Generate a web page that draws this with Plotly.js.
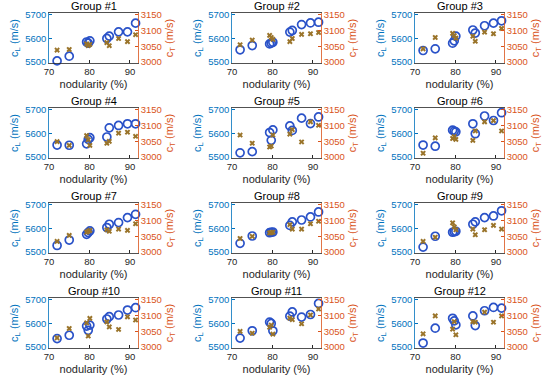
<!DOCTYPE html>
<html><head><meta charset="utf-8">
<script src="https://cdn.plot.ly/plotly-3.0.1.min.js"></script>
<style>html,body{margin:0;padding:0;background:#fff}#chart{width:550px;height:383px}</style>
</head><body><div id="chart"></div>
<script>
const nodularity = [72, 75, 79.3, 79.7, 80.1, 84.3, 84.9, 87.2, 89.4, 91.4];
const groupNames = ["Group #1","Group #2","Group #3","Group #4","Group #5","Group #6","Group #7","Group #8","Group #9","Group #10","Group #11","Group #12"];
const cL1 = [5505, 5525, 5585, 5580, 5590, 5600, 5610, 5628, 5628, 5665];
const cT1 = [3038, 3040, 3058, 3052, 3056, 3062, 3052, 3075, 3065, 3087];
const cL2 = [5552, 5570, 5577, 5580, 5584, 5627, 5634, 5659, 5666, 5669];
const cT2 = [3055, 3070, 3085, 3078, 3072, 3065, 3075, 3088, 3090, 3094];
const cL3 = [5549, 5556, 5580, 5590, 5610, 5636, 5623, 5654, 5665, 5675];
const cT3 = [3042, 3078, 3091, 3084, 3076, 3082, 3066, 3095, 3090, 3107];
const cL4 = [5551, 5550, 5556, 5575, 5582, 5585, 5624, 5634, 5641, 5641];
const cT4 = [3049, 3037, 3068, 3055, 3037, 3044, 3050, 3076, 3079, 3066];
const cL5 = [5518, 5523, 5604, 5571, 5615, 5632, 5613, 5665, 5642, 5670];
const cT5 = [3070, 3044, 3032, 3035, 3070, 3073, 3087, 3048, 3112, 3101];
const cL6 = [5551, 5546, 5614, 5610, 5607, 5641, 5599, 5674, 5655, 5688];
const cT6 = [3012, 3061, 3059, 3065, 3056, 3053, 3083, 3112, 3116, 3083];
const cL7 = [5528, 5551, 5575, 5583, 5590, 5604, 5618, 5625, 5646, 5660];
const cT7 = [3034, 3053, 3063, 3066, 3069, 3071, 3066, 3073, 3069, 3090];
const cL8 = [5537, 5568, 5582, 5584, 5585, 5613, 5628, 5636, 5649, 5670];
const cT8 = [3043, 3050, 3061, 3062, 3063, 3087, 3073, 3073, 3090, 3098];
const cL9 = [5521, 5567, 5584, 5586, 5588, 5618, 5628, 5646, 5653, 5675];
const cT9 = [3034, 3047, 3093, 3080, 3071, 3073, 3055, 3071, 3085, 3073];
const cL10 = [5536, 5550, 5589, 5571, 5593, 5619, 5629, 5636, 5657, 5667];
const cT10 = [3029, 3059, 3077, 3035, 3091, 3080, 3064, 3056, 3096, 3086];
const cL11 = [5538, 5569, 5606, 5600, 5569, 5631, 5649, 5627, 5638, 5685];
const cT11 = [3050, 3044, 3063, 3070, 3041, 3092, 3087, 3074, 3102, 3121];
const cL12 = [5517, 5580, 5622, 5611, 5594, 5632, 5591, 5654, 5668, 5665];
const cT12 = [3042, 3099, 3057, 3081, 3039, 3081, 3079, 3111, 3079, 3099];
const cLTicks = [5500, 5600, 5700];
const cTTicks = [3000, 3050, 3100, 3150];
const xTicks = [70, 80, 90];

const cLAll = [cL1,cL2,cL3,cL4,cL5,cL6,cL7,cL8,cL9,cL10,cL11,cL12];
const cTAll = [cT1,cT2,cT3,cT4,cT5,cT6,cT7,cT8,cT9,cT10,cT11,cT12];

const W = 550, H = 383;
const colPx = [[49,138],[232,321],[415,504]];
const rowPx = [[13,63],[108,158],[203,253],[298,348]];
const BLUE = '#0072BD', ORANGE = '#D95319';
const CIRC = '#2a52c8', XCOL = '#9a742a';
const FONT = 'Liberation Sans, Arial, sans-serif';

const data = [];
const layout = {
  width: W, height: H, margin: {l:0,r:0,t:0,b:0},
  paper_bgcolor: '#fff', plot_bgcolor: '#fff', showlegend: false,
  font: {family: FONT, size: 10, color: '#262626'},
  annotations: []
};

for (let i = 0; i < 12; i++) {
  const r = Math.floor(i/3), c = i % 3;
  const xn = i+1, y1n = 2*i+1, y2n = 2*i+2;
  const xk = xn === 1 ? 'x' : 'x'+xn;
  const y1k = y1n === 1 ? 'y' : 'y'+y1n;
  const y2k = 'y'+y2n;
  const xd = [colPx[c][0]/W, colPx[c][1]/W];
  const yd = [1 - rowPx[r][1]/H, 1 - rowPx[r][0]/H];
  data.push({x: nodularity, y: cLAll[i], xaxis: xk, yaxis: y1k, type:'scatter', mode:'markers',
    marker:{symbol:'circle-open', size:8, color:CIRC, line:{width:1.7, color:CIRC}}, cliponaxis:false});
  data.push({x: nodularity, y: cTAll[i], xaxis: xk, yaxis: y2k, type:'scatter', mode:'markers',
    marker:{symbol:'x', size:5, color:XCOL, line:{width:0}}, cliponaxis:false});
  layout['xaxis'+(xn===1?'':xn)] = {
    domain: xd, anchor: y1k, range:[70,92], tickvals: xTicks, ticks:'inside', ticklen:3,
    tickcolor:'#262626', showline:true, mirror:true, linecolor:'#262626', linewidth:0.8,
    showgrid:false, zeroline:false, tickfont:{size:9.5, color:'#262626'},
    title:{text:'nodularity (%)', font:{size:11, color:'#262626'}, standoff:3}
  };
  layout['yaxis'+(y1n===1?'':y1n)] = {
    domain: yd, anchor: xk, range:[5496,5708], tickvals: cLTicks, ticks:'inside', ticklen:3,
    tickcolor:BLUE, showline:true, linecolor:BLUE, linewidth:0.8, showgrid:false, zeroline:false,
    tickfont:{size:9.5, color:BLUE},
    title:{text:'c<sub>L</sub> (m/s)', font:{size:11, color:BLUE}, standoff:4}
  };
  layout['yaxis'+y2n] = {
    overlaying: y1k, side:'right', anchor: xk, range:[2997,3156], tickvals: cTTicks, ticks:'inside', ticklen:3,
    tickcolor:ORANGE, showline:true, linecolor:ORANGE, linewidth:0.8, showgrid:false, zeroline:false,
    tickfont:{size:9.5, color:ORANGE},
    title:{text:'c<sub>T</sub> (m/s)', font:{size:11, color:ORANGE}, standoff:4}
  };
  layout.annotations.push({text: groupNames[i], xref:'paper', yref:'paper',
    x:(xd[0]+xd[1])/2, y:yd[1], xanchor:'center', yanchor:'bottom', yshift:-1, showarrow:false,
    font:{size:11, color:'#000'}});
}

Plotly.newPlot('chart', data, layout, {staticPlot:true, displayModeBar:false});
</script>
</body></html>
